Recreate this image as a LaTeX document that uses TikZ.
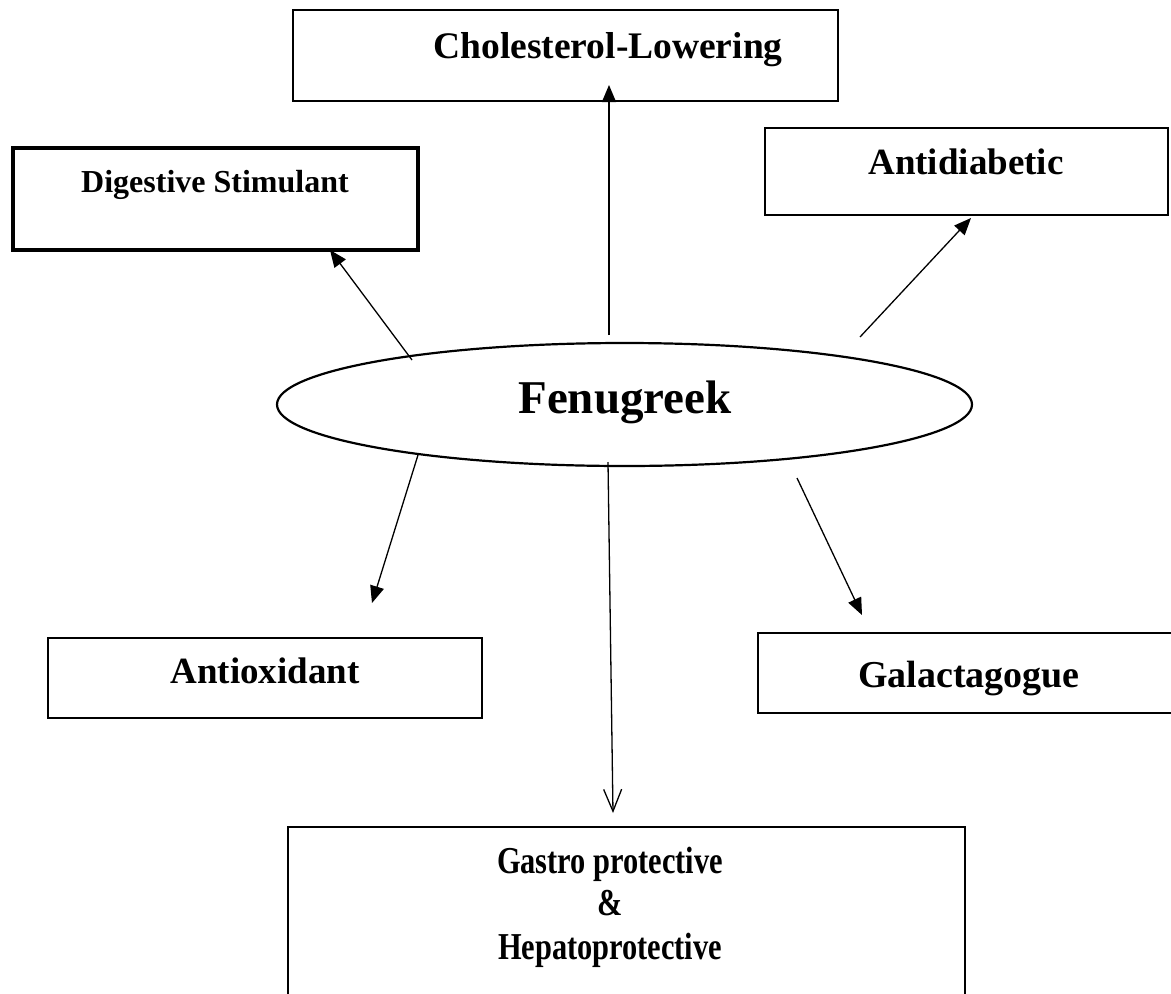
\documentclass[tikz,border=0pt]{standalone}
\usepackage{fontspec}
\setmainfont{Liberation Serif}
\usetikzlibrary{arrows.meta,shapes.geometric}
\begin{document}
\begin{tikzpicture}[x=1pt,y=-1pt,
  box/.style={draw, line width=1.6pt, inner sep=0pt},
  lbl/.style={font=\bfseries\fontsize{#1}{#1}\selectfont, anchor=base, inner sep=0pt},
  con/.style={line width=1.3pt, -{Triangle[length=17pt,width=14pt]}},
  opencon/.style={line width=1.3pt, -{Straight Barb[length=22pt,width=18pt,line width=1.3pt]}},
]
\useasboundingbox[fill=white] (0,0) rectangle (1171,994);

% boxes
\node[box, minimum width=545pt, minimum height=91pt] (chol) at (565.5,55.5) {};
\node[box, line width=3.5pt, minimum width=405pt, minimum height=102pt] (dig) at (215.5,199) {};
\node[box, minimum width=403pt, minimum height=87pt] (anti) at (966.5,171.5) {};
\node[box, line width=1.2pt, minimum width=434pt, minimum height=80pt] (ox) at (265,678) {};
\node[box, line width=2pt, minimum width=440pt, minimum height=80pt] (gal) at (978,673) {};
\node[box, line width=2pt, minimum width=677pt, minimum height=190pt] (gas) at (626.5,922) {};

% ellipse
\node[draw, ellipse, line width=2.2pt, minimum width=695pt, minimum height=123pt, inner sep=0pt] (fen) at (624.5,404.5) {};

% labels
\node[lbl=37.5] (tchol) at (608,58) {Cholesterol-Lowering};
\node[lbl=32] (tdig) at (215,192) {Digestive Stimulant};
\node[lbl=37] (tanti) at (966,174) {Antidiabetic};
\node[lbl=47] (tfen) at (625,413) {Fenugreek};
\node[lbl=37] (tox) at (265,683) {Antioxidant};
\node[lbl=38] (tgal) at (969,687) {Galactagogue};
\node[lbl=38] (tgas1) at (610,873) {\scalebox{0.8}[1]{Gastro protective}};
\node[lbl=38] (tgas2) at (610,915) {\scalebox{0.8}[1]{\&}};
\node[lbl=38] (tgas3) at (610,959) {\scalebox{0.8}[1]{Hepatoprotective}};

% connector endpoints
\coordinate (s1) at (609,335);  \coordinate (e1) at (609,85);
\coordinate (s2) at (412,360);  \coordinate (e2) at (330,250);
\coordinate (s3) at (860,337);  \coordinate (e3) at (971,218);
\coordinate (s4) at (418,455);  \coordinate (e4) at (372,603);
\coordinate (s5) at (797,478);  \coordinate (e5) at (862,615);
\coordinate (s6) at (608,462);  \coordinate (e6) at (613,813);

\draw[con] (s1) -- (e1);
\draw[con] (s2) -- (e2);
\draw[con] (s3) -- (e3);
\draw[con] (s4) -- (e4);
\draw[con] (s5) -- (e5);
\draw[opencon] (s6) -- (e6);
\end{tikzpicture}
\end{document}
